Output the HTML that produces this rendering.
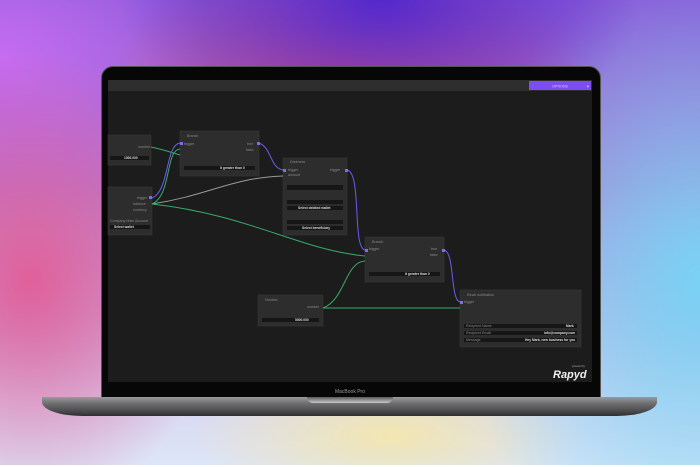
<!DOCTYPE html>
<html><head><meta charset="utf-8"><style>
html,body{margin:0;padding:0;width:700px;height:467px;overflow:hidden}
body{position:relative;font-family:"Liberation Sans",sans-serif;
background:
radial-gradient(ellipse 260px 150px at 380px 0px,#5428cc 0%,rgba(84,40,204,0) 100%),
radial-gradient(ellipse 240px 120px at 350px 75px,#d0507a 0%,rgba(208,80,122,0) 100%),
radial-gradient(ellipse 190px 230px at 30px 280px,#e0609a 0%,rgba(224,96,154,0) 100%),
radial-gradient(ellipse 220px 160px at 0px 60px,#c66cf2 0%,rgba(198,108,242,0) 100%),
radial-gradient(ellipse 240px 320px at 700px 280px,#78d2f4 0%,rgba(120,210,244,0) 100%),
radial-gradient(ellipse 200px 70px at 390px 435px,#f2e6b0 0%,rgba(242,230,176,0) 100%),
linear-gradient(180deg,#8a5ad8 0%,#b07ad0 40%,#d8d6f2 85%,#dde6f8 100%);}
.lid{position:absolute;left:101px;top:66px;width:498px;height:332px;background:#070707;border-radius:12px 12px 0 0;border:1px solid #555}
.base{position:absolute;left:42px;top:397px;width:615px;height:19px;border-radius:0 0 40px 40px/0 0 14px 14px;
background:linear-gradient(180deg,#9a9a9c 0%,#6e6e70 35%,#4a4a4c 75%,#2e2e30 100%)}
.notch{position:absolute;left:307px;top:397px;width:86px;height:6px;background:linear-gradient(180deg,#5a5a5c,#c8c8ca);border-radius:0 0 8px 8px}
.mb{position:absolute;left:330px;top:389px;width:40px;text-align:center;font-size:5px;color:#999}
.white{position:absolute;left:0;top:465px;width:700px;height:2px;background:#fff}
</style></head><body>
<div class="lid"></div>
<svg style="position:absolute;left:0;top:0" width="700" height="467" font-family="Liberation Sans, sans-serif">
<rect x="108" y="80" width="484" height="302" fill="#1c1c1c"/>
<rect x="108" y="80" width="484" height="11" fill="#2e2e2e"/>
<rect x="529" y="81" width="62" height="9" fill="#7b4df2"/>
<text x="560" y="87.5" font-size="3.5" fill="#d9ccff" text-anchor="middle">OPTIONS</text>
<text x="587" y="87.5" font-size="3.5" fill="#fff">▾</text>
<g fill="#2d2d2d" stroke="#3a3a3a" stroke-width="0.5">
<rect x="108" y="135" width="43" height="30"/>
<rect x="180" y="131" width="79" height="45"/>
<rect x="108" y="187" width="44" height="48"/>
<rect x="283" y="158" width="64" height="77"/>
<rect x="365" y="237" width="79" height="45"/>
<rect x="258" y="295" width="65" height="31"/>
<rect x="460" y="290" width="121" height="57"/>
</g>
<g fill="#161616">
<rect x="110" y="156" width="39" height="4"/>
<rect x="184" y="166" width="71" height="4"/>
<rect x="110" y="225" width="40" height="4"/>
<rect x="287" y="185" width="56" height="5"/>
<rect x="287" y="200" width="56" height="4"/><rect x="287" y="206" width="56" height="4"/>
<rect x="287" y="220" width="56" height="4"/><rect x="287" y="226" width="56" height="4"/>
<rect x="369" y="272" width="71" height="4"/>
<rect x="262" y="318" width="57" height="4"/>
<rect x="464" y="324" width="113" height="4"/><rect x="464" y="331" width="113" height="4"/><rect x="464" y="338" width="113" height="4"/>
</g>
<g font-size="3.6" fill="#888">
<text x="187" y="137">Branch</text><text x="290" y="163">Darkness</text><text x="372" y="243">Branch</text>
<text x="265" y="301">Number</text><text x="467" y="296">Email notification</text>
<text x="138" y="148">number</text><text x="137" y="199">trigger</text><text x="133" y="205">balance</text><text x="133" y="211">currency</text>
<text x="110" y="222">Company Main Account</text>
<text x="184" y="145">trigger</text><text x="247" y="145">true</text><text x="246" y="151">false</text>
<text x="288" y="171">trigger</text><text x="288" y="176">amount</text><text x="330" y="171">trigger</text>
<text x="369" y="250">trigger</text><text x="431" y="250">true</text><text x="430" y="256">false</text>
<text x="307" y="308">number</text>
<text x="464" y="303">trigger</text>
<text x="466" y="327">Recipient Name</text><text x="466" y="334">Recipient Email</text><text x="466" y="341">Message</text>
</g>
<g font-size="3.3" fill="#ddd" font-weight="bold">
<text x="124" y="159">1000.000</text><text x="220" y="169">it greater than 0</text>
<text x="114" y="228">Select wallet</text><text x="298" y="209">Select debited wallet</text><text x="302" y="229">Select beneficiary</text>
<text x="405" y="275">it greater than 0</text><text x="295" y="321">5000.000</text>
<text x="566" y="327">Mark</text><text x="544" y="334">info@company.com</text><text x="525" y="341">Hey Mark, new business for you</text>
</g>
<g fill="none" stroke-width="1">
<path d="M151 147 C165 150,170 152,180 155" stroke="#3aa86a"/>
<path d="M152 198 C170 190,165 145,180 143" stroke="#6a5cf0"/>
<path d="M152 204 C172 195,165 150,180 149" stroke="#3aa86a"/>
<path d="M152 204 C210 195,230 178,283 176" stroke="#9a9a9a"/>
<path d="M152 204 C250 215,300 250,365 256" stroke="#3aa86a"/>
<path d="M259 143 C272 148,270 168,283 170" stroke="#6a5cf0"/>
<path d="M347 170 C362 172,352 248,365 250" stroke="#6a5cf0"/>
<path d="M323 308 C345 300,345 262,365 261" stroke="#3aa86a"/>
<path d="M323 308 L460 308" stroke="#3aa86a"/>
<path d="M444 250 C455 252,450 300,460 302" stroke="#6a5cf0"/>
</g>
<g fill="#7b6cf5"><rect x="149" y="196" width="3" height="3"/><rect x="180" y="142" width="3" height="3"/><rect x="257" y="142" width="3" height="3"/><rect x="283" y="169" width="3" height="3"/><rect x="345" y="169" width="3" height="3"/><rect x="365" y="249" width="3" height="3"/><rect x="442" y="249" width="3" height="3"/><rect x="460" y="301" width="3" height="3"/></g>
<text x="553" y="378" font-size="11" font-style="italic" font-weight="bold" fill="#eee">Rapyd</text>
<text x="572" y="367" font-size="2.5" fill="#aaa">powered by</text>
</svg>
<div class="base"></div><div class="notch"></div>
<div class="mb">MacBook Pro</div>
<div class="white"></div>
</body></html>
